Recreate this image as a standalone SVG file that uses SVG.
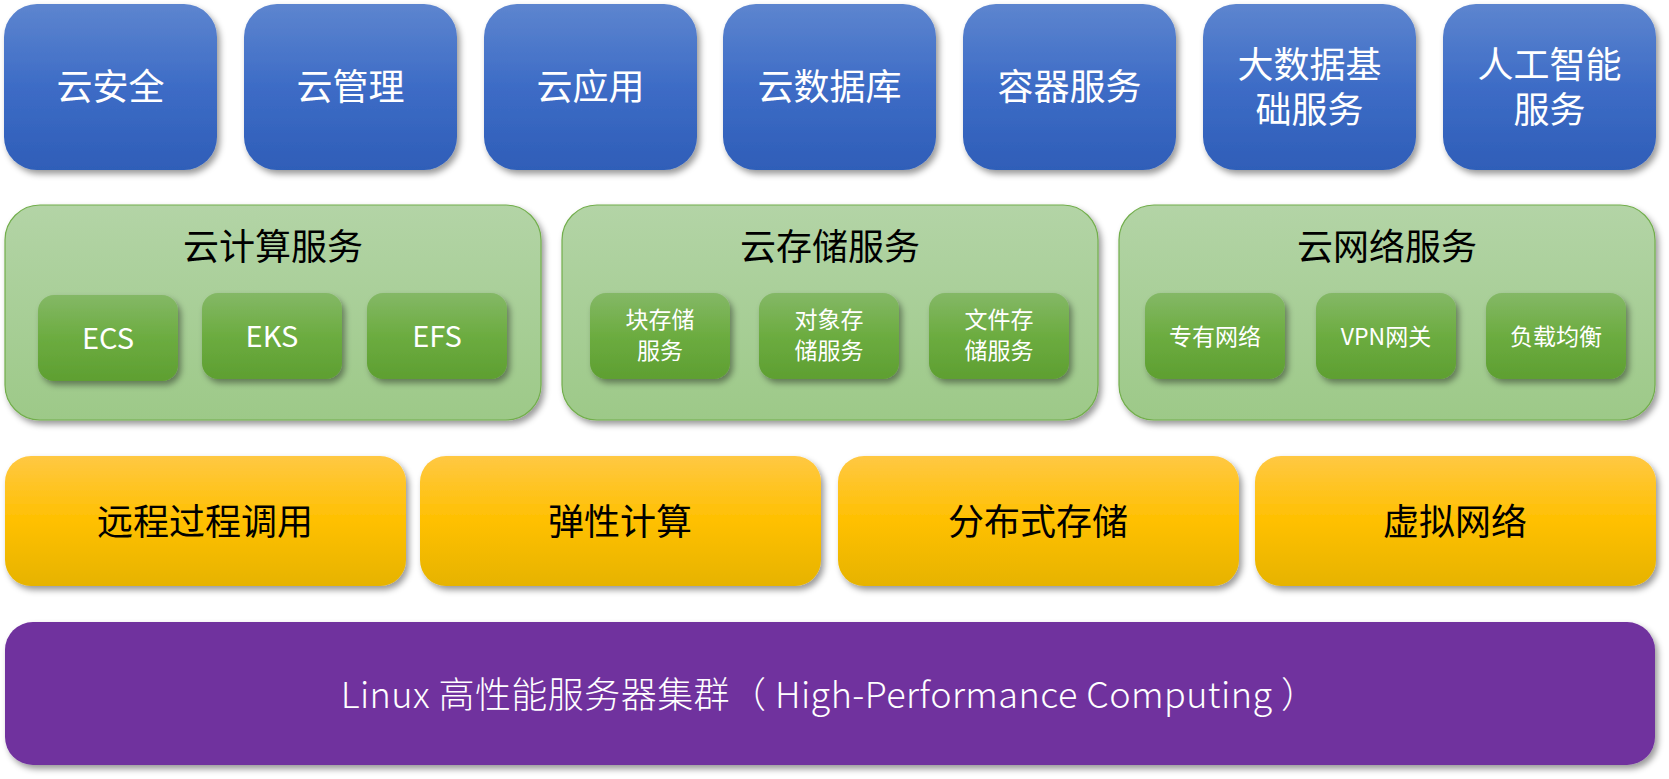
<svg xmlns="http://www.w3.org/2000/svg" width="1669" height="779" viewBox="0 0 1669 779">
<defs>
<linearGradient id="gBlue" x1="0" y1="0" x2="0" y2="1"><stop offset="0" stop-color="#5D85CF"/><stop offset="0.5" stop-color="#3D6CC6"/><stop offset="1" stop-color="#2F5EB8"/></linearGradient>
<linearGradient id="gCont" x1="0" y1="0" x2="0" y2="1"><stop offset="0" stop-color="#B3D4A6"/><stop offset="1" stop-color="#9DC988"/></linearGradient>
<linearGradient id="gInner" x1="0" y1="0" x2="0" y2="1"><stop offset="0" stop-color="#84B866"/><stop offset="0.5" stop-color="#6CAC40"/><stop offset="1" stop-color="#5E9F31"/></linearGradient>
<linearGradient id="gYellow" x1="0" y1="0" x2="0" y2="1"><stop offset="0" stop-color="#FFC843"/><stop offset="0.5" stop-color="#FFC000"/><stop offset="1" stop-color="#E6B300"/></linearGradient>
<filter id="sh" x="-10%" y="-10%" width="125%" height="130%"><feDropShadow dx="3" dy="4" stdDeviation="3" flood-color="#000" flood-opacity="0.4"/></filter>
</defs>
<style>
.blue{fill:url(#gBlue);filter:url(#sh)}
.cont{fill:url(#gCont);stroke:#72AE4C;stroke-width:1.2;filter:url(#sh)}
.inner{fill:url(#gInner);filter:url(#sh)}
.yel{fill:url(#gYellow);filter:url(#sh)}
.pur{fill:#70309E;filter:url(#sh)}
text{font-family:"Noto Sans CJK SC","Microsoft YaHei",sans-serif;text-anchor:middle}
.tb{fill:#fff;font-size:36px}
.tt{fill:#000;font-size:36px}
.ti{fill:#fff;font-size:23px}
.te{fill:#fff;font-size:29px}
.tp{fill:#fff;font-size:36px;font-weight:300;letter-spacing:0.45px}
</style>
<g id="top-layer">
<g id="n-yunanquan"><rect class="blue" x="4" y="4" width="213" height="166" rx="33"/><text class="tb" x="110.5" y="100">云安全</text></g>
<g id="n-yunguanli"><rect class="blue" x="244" y="4" width="213" height="166" rx="33"/><text class="tb" x="350.5" y="100">云管理</text></g>
<g id="n-yunyingyong"><rect class="blue" x="484" y="4" width="213" height="166" rx="33"/><text class="tb" x="590.5" y="100">云应用</text></g>
<g id="n-yunshujuku"><rect class="blue" x="723" y="4" width="213" height="166" rx="33"/><text class="tb" x="829.5" y="100">云数据库</text></g>
<g id="n-rongqi"><rect class="blue" x="963" y="4" width="213" height="166" rx="33"/><text class="tb" x="1069.5" y="100">容器服务</text></g>
<g id="n-dashuju"><rect class="blue" x="1203" y="4" width="213" height="166" rx="33"/><text class="tb" x="1309.5" y="78">大数据基</text><text class="tb" x="1309.5" y="123">础服务</text></g>
<g id="n-ai"><rect class="blue" x="1443" y="4" width="213" height="166" rx="33"/><text class="tb" x="1549.5" y="78">人工智能</text><text class="tb" x="1549.5" y="123">服务</text></g>
</g>
<g id="compute">
<rect class="cont" x="5" y="205" width="536" height="215" rx="35"/><text class="tt" x="273" y="260">云计算服务</text>
<g id="n-ecs"><rect class="inner" x="38" y="295" width="140" height="86" rx="16"/><text class="te" x="108" y="349">ECS</text></g>
<g id="n-eks"><rect class="inner" x="202" y="293" width="140" height="86" rx="16"/><text class="te" x="272" y="347">EKS</text></g>
<g id="n-efs"><rect class="inner" x="367" y="293" width="140" height="86" rx="16"/><text class="te" x="437" y="347">EFS</text></g>
</g>
<g id="storage">
<rect class="cont" x="562" y="205" width="536" height="215" rx="35"/><text class="tt" x="830" y="260">云存储服务</text>
<g id="n-block"><rect class="inner" x="590" y="293" width="140" height="86" rx="16"/><text class="ti" x="660" y="328">块存储</text><text class="ti" x="660" y="359">服务</text></g>
<g id="n-object"><rect class="inner" x="759" y="293" width="140" height="86" rx="16"/><text class="ti" x="829" y="328">对象存</text><text class="ti" x="829" y="359">储服务</text></g>
<g id="n-file"><rect class="inner" x="929" y="293" width="140" height="86" rx="16"/><text class="ti" x="999" y="328">文件存</text><text class="ti" x="999" y="359">储服务</text></g>
</g>
<g id="network">
<rect class="cont" x="1119" y="205" width="536" height="215" rx="35"/><text class="tt" x="1387" y="260">云网络服务</text>
<g id="n-vpc"><rect class="inner" x="1145" y="293" width="140" height="86" rx="16"/><text class="ti" x="1215" y="345">专有网络</text></g>
<g id="n-vpn"><rect class="inner" x="1316" y="293" width="140" height="86" rx="16"/><text class="ti" x="1386" y="345">VPN网关</text></g>
<g id="n-lb"><rect class="inner" x="1486" y="293" width="140" height="86" rx="16"/><text class="ti" x="1556" y="345">负载均衡</text></g>
</g>
<g id="base-layer">
<g id="n-rpc"><rect class="yel" x="5" y="456" width="401" height="130" rx="26"/><text class="tt" x="205" y="535">远程过程调用</text></g>
<g id="n-elastic"><rect class="yel" x="420" y="456" width="401" height="130" rx="26"/><text class="tt" x="620" y="535">弹性计算</text></g>
<g id="n-dist"><rect class="yel" x="838" y="456" width="401" height="130" rx="26"/><text class="tt" x="1038" y="535">分布式存储</text></g>
<g id="n-vnet"><rect class="yel" x="1255" y="456" width="401" height="130" rx="26"/><text class="tt" x="1455" y="535">虚拟网络</text></g>
</g>
<g id="n-hpc"><rect class="pur" x="5" y="622" width="1650" height="143" rx="28"/><text class="tp" x="829" y="708">Linux 高性能服务器集群（ High-Performance Computing ）</text></g>
<g id="connectors"/>
</svg>
